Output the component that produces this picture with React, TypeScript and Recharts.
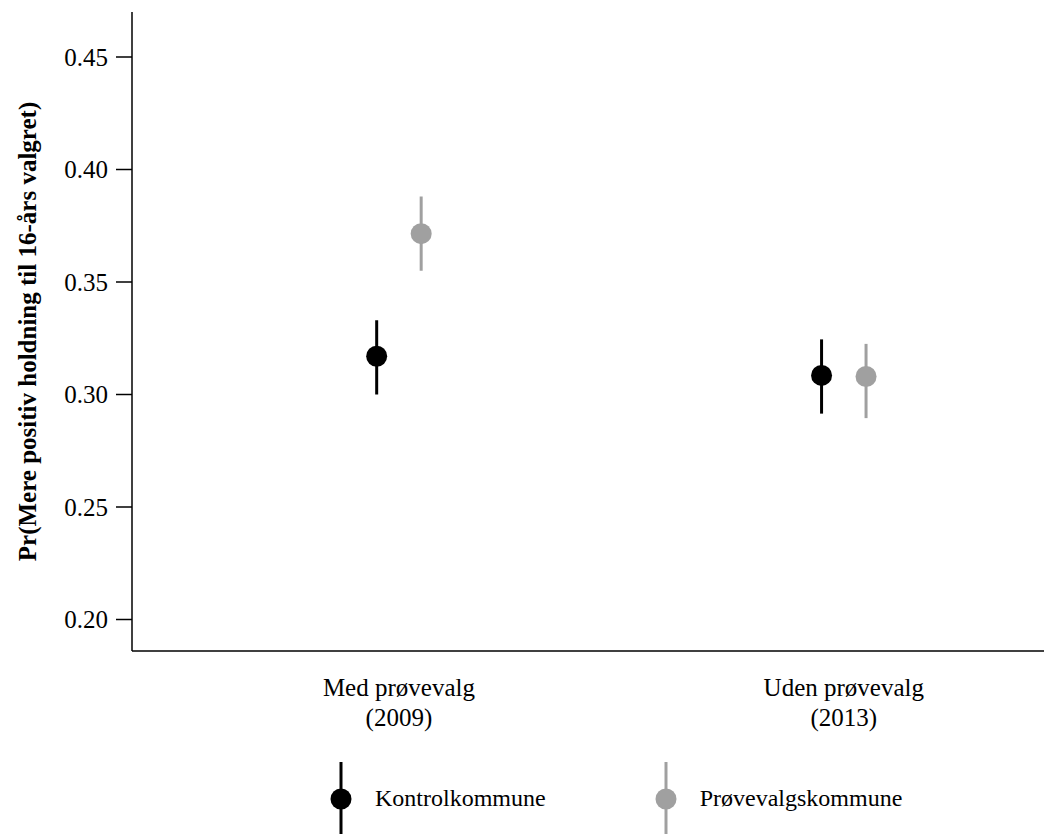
import { ComposedChart, Scatter, ErrorBar, XAxis, YAxis, Legend } from 'recharts';

// periods on the x axis (1 = 2009, 2 = 2013)
const periodPos = [1, 2];
const periodLines = [
    ['Med prøvevalg', '(2009)'],
    ['Uden prøvevalg', '(2013)'],
];

const seriesNames = ['Kontrolkommune', 'Prøvevalgskommune'];
const seriesColors = ['#000000', '#a0a0a0'];
const seriesShift = [-0.05, 0.05];

// point estimates and 95% intervals, one array per group
const kontrolEst = [0.317, 0.3085];
const kontrolLo = [0.300, 0.2915];
const kontrolHi = [0.333, 0.3245];
const proeveEst = [0.3715, 0.308];
const proeveLo = [0.355, 0.2895];
const proeveHi = [0.388, 0.3225];

const yTicks = [0.2, 0.25, 0.3, 0.35, 0.4, 0.45];

const FONT = '"Liberation Serif", "DejaVu Serif", serif';

const build = (est: number[], lo: number[], hi: number[], shift: number) =>
    periodPos.map((p, i) => ({
        x: p + shift,
        y: est[i],
        err: [est[i] - lo[i], hi[i] - est[i]],
    }));

const kontrolData = build(kontrolEst, kontrolLo, kontrolHi, seriesShift[0]);
const proeveData = build(proeveEst, proeveLo, proeveHi, seriesShift[1]);

const Dot = (color: string) => (props: any) => (
    <circle cx={props.cx} cy={props.cy} r={10.5} fill={color} />
);

const PeriodTick = (props: any) => {
    const { x, y, payload } = props;
    const idx = periodPos.indexOf(payload.value);
    const lines = periodLines[idx] || [];
    return (
        <text x={x} y={y} textAnchor="middle" fontFamily={FONT} fontSize={25} fill="#000">
            {lines.map((l, i) => (
                <tspan key={i} x={x} dy={i === 0 ? 37 : 30}>{l}</tspan>
            ))}
        </text>
    );
};

const YLabel = (props: any) => {
    const { viewBox } = props;
    const cx = viewBox.x + 27;
    const cy = viewBox.y + viewBox.height / 2;
    return (
        <text x={cx} y={cy} transform={`rotate(-90 ${cx} ${cy})`} textAnchor="middle"
            dominantBaseline="central" fontFamily={FONT} fontSize={25} fontWeight="bold" fill="#000">
            Pr(Mere positiv holdning til 16-års valgret)
        </text>
    );
};

const LegendBox = () => (
    <div style={{ display: 'flex', alignItems: 'center', fontFamily: FONT, fontSize: 24 }}>
        {seriesNames.map((n, i) => (
            <div key={n} style={{ display: 'flex', alignItems: 'center', marginRight: i === 0 ? 108 : 0 }}>
                <svg width={24} height={72} style={{ display: 'block' }}>
                    <line x1={12} x2={12} y1={0} y2={72} stroke={seriesColors[i]} strokeWidth={3} />
                    <circle cx={12} cy={37} r={10.5} fill={seriesColors[i]} />
                </svg>
                <span style={{ marginLeft: 22 }}>{n}</span>
            </div>
        ))}
    </div>
);

export default function App() {
    return (
        <div style={{ position: 'absolute', left: 0, top: 0, width: 1044, height: 835, background: '#fff' }}>
            <ComposedChart width={1044} height={835} margin={{ top: 12, right: 0, bottom: 183, left: 0 }}>
                <XAxis type="number" dataKey="x" domain={[0.4, 2.45]} ticks={periodPos}
                    tick={<PeriodTick />} tickLine={false} axisLine={{ stroke: '#000', strokeWidth: 1.5 }}
                    height={1} allowDataOverflow />
                <YAxis type="number" dataKey="y" domain={[0.186, 0.47]} ticks={yTicks} width={132}
                    tickFormatter={(v: number) => v.toFixed(2)} tickSize={16} tickMargin={8}
                    tick={{ fontFamily: FONT, fontSize: 25, fill: '#000' }}
                    tickLine={{ stroke: '#000', strokeWidth: 1.5 }}
                    axisLine={{ stroke: '#000', strokeWidth: 1.5 }} allowDataOverflow
                    label={{ content: <YLabel /> }} />
                <Legend content={<LegendBox />} layout="horizontal" verticalAlign="middle" align="center"
                    wrapperStyle={{ position: 'absolute', left: 329, top: 762, width: 'auto', height: 'auto' }} />
                <Scatter name={seriesNames[0]} data={kontrolData} fill={seriesColors[0]}
                    shape={Dot(seriesColors[0])} isAnimationActive={false}>
                    <ErrorBar dataKey="err" direction="y" width={0} stroke={seriesColors[0]} strokeWidth={3}
                        isAnimationActive={false} />
                </Scatter>
                <Scatter name={seriesNames[1]} data={proeveData} fill={seriesColors[1]}
                    shape={Dot(seriesColors[1])} isAnimationActive={false}>
                    <ErrorBar dataKey="err" direction="y" width={0} stroke={seriesColors[1]} strokeWidth={3}
                        isAnimationActive={false} />
                </Scatter>
            </ComposedChart>
        </div>
    );
}
